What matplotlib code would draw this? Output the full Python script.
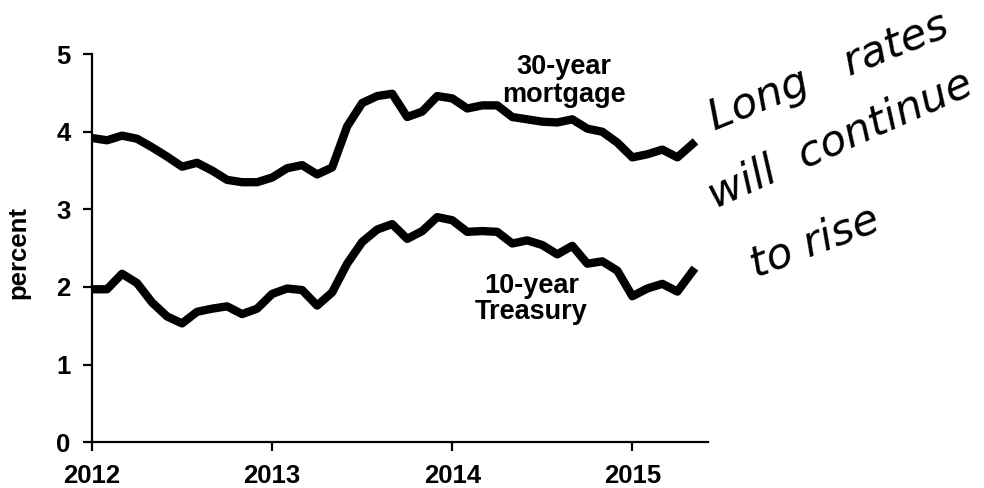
import matplotlib.pyplot as plt
import numpy as np

# monthly averages, Jan 2012 .. May 2015
months = np.arange(41)
mortgage_30yr = [3.92, 3.89, 3.95, 3.91, 3.80, 3.68, 3.55, 3.60, 3.50, 3.38, 3.35, 3.35,
                 3.41, 3.53, 3.57, 3.45, 3.54, 4.07, 4.37, 4.46, 4.49, 4.19, 4.26, 4.46,
                 4.43, 4.30, 4.34, 4.34, 4.19, 4.16, 4.13, 4.12, 4.16, 4.04, 4.00, 3.86,
                 3.67, 3.71, 3.77, 3.67, 3.84]
treasury_10yr = [1.97, 1.97, 2.17, 2.05, 1.80, 1.62, 1.53, 1.68, 1.72, 1.75, 1.65, 1.72,
                 1.91, 1.98, 1.96, 1.76, 1.93, 2.30, 2.58, 2.74, 2.81, 2.62, 2.72, 2.90,
                 2.86, 2.71, 2.72, 2.71, 2.56, 2.60, 2.54, 2.42, 2.53, 2.30, 2.33, 2.21,
                 1.88, 1.98, 2.04, 1.94, 2.20]
years = [2012, 2013, 2014, 2015]
yticks = [0, 1, 2, 3, 4, 5]

x = 2012 + months / 12.0

plt.rcParams['font.family'] = ['Liberation Sans', 'DejaVu Sans']

fig = plt.figure(figsize=(9.84, 4.88), dpi=100)
ax = fig.add_axes([0.0935, 0.094, 0.626, 0.795])

ax.plot(x, mortgage_30yr, color='black', lw=6, solid_joinstyle='round')
ax.plot(x, treasury_10yr, color='black', lw=6, solid_joinstyle='round')

ax.set_xlim(2012, 2015.42)
ax.set_ylim(0, 5)
ax.set_xticks(years)
ax.set_xticklabels([str(y) for y in years])
ax.set_yticks(yticks)

for s in ['top', 'right']:
    ax.spines[s].set_visible(False)
for s in ['left', 'bottom']:
    ax.spines[s].set_linewidth(1.6)

ax.tick_params(axis='both', direction='out', length=6.5, width=1.6, labelsize=18.5, pad=9)
for lab in ax.get_xticklabels() + ax.get_yticklabels():
    lab.set_fontweight('bold')
ax.set_ylabel('percent', fontsize=18.5, fontweight='bold')
ax.yaxis.set_label_coords(-0.1, 0.49)

ax.text(2014.62, 4.66, '30-year\nmortgage', ha='center', va='center',
        fontsize=19.5, fontweight='bold', linespacing=1.1)
ax.text(2014.44, 1.84, '10-year\nTreasury', ha='center', va='center',
        fontsize=19.5, fontweight='bold', linespacing=1.0)

# handwritten note
note_kw = dict(ha='center', va='center', fontsize=31, color='black',
               rotation_mode='anchor', family='DejaVu Sans',
               fontweight='light', style='italic')
fig.text(829 / 984, 1 - 72 / 488, 'Long   rates', rotation=22, **note_kw)
fig.text(840 / 984, 1 - 140 / 488, 'will  continue', rotation=24, **note_kw)
fig.text(815 / 984, 1 - 242 / 488, 'to rise', rotation=21, **note_kw)

fig.savefig('out.png', dpi=100)
